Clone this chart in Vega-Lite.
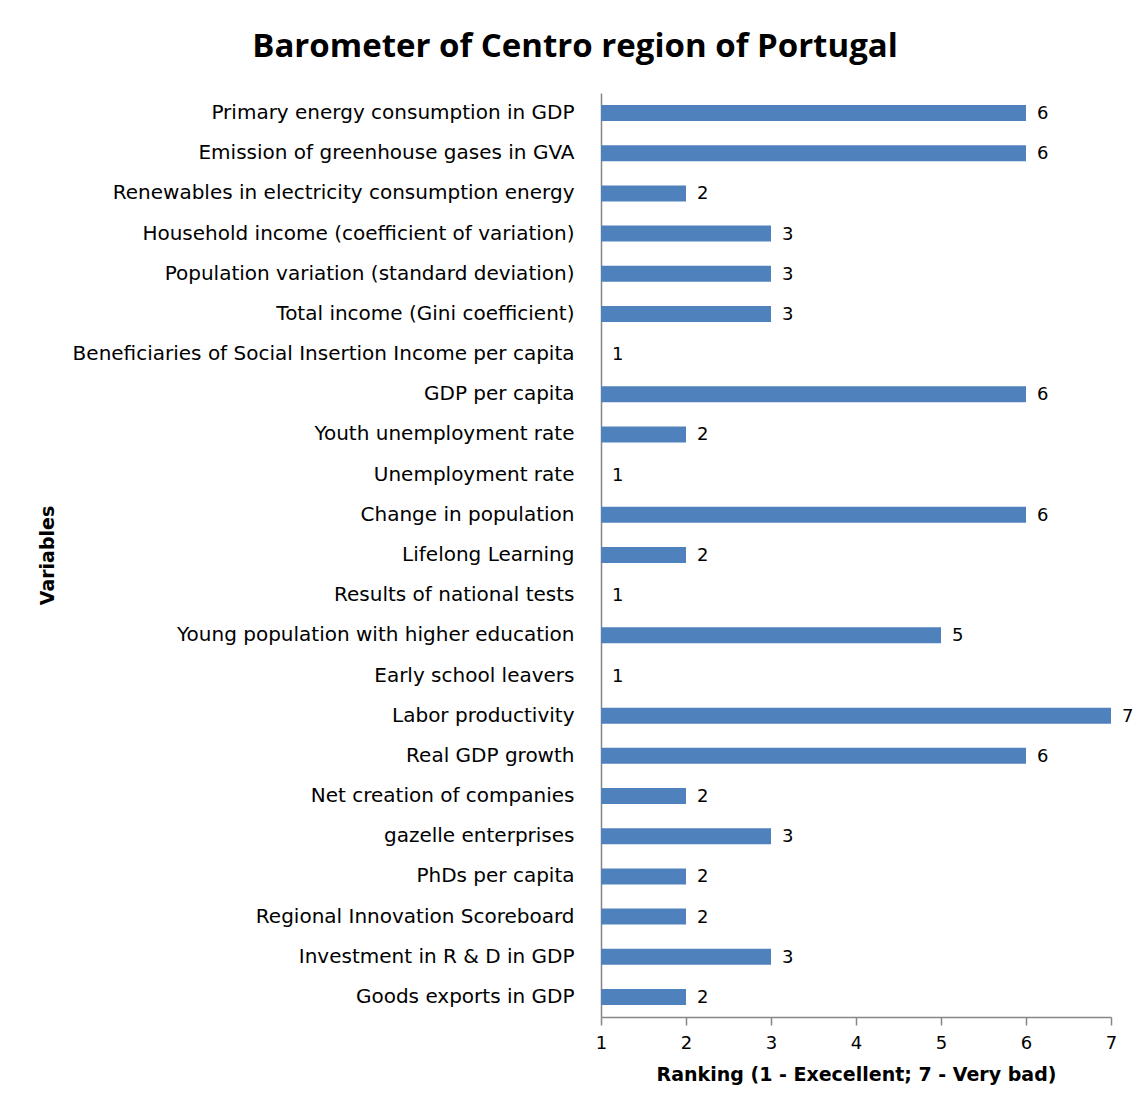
{
  "$schema": "https://vega.github.io/schema/vega-lite/v6.json",
  "autosize": {"type": "none"},
  "width": 510,
  "height": 924,
  "padding": {"left": 601, "top": 93, "right": 22, "bottom": 87},
  "background": "white",
  "title": {
    "text": "Barometer of Centro region of Portugal",
    "font": "Open Sans",
    "fontSize": 33,
    "fontWeight": "bold",
    "color": "#000000",
    "anchor": "middle",
    "dx": -281,
    "offset": 29
  },
  "data": {
    "values": [
      {"variable": "Primary energy consumption in GDP", "rank": 6},
      {"variable": "Emission of greenhouse gases in GVA", "rank": 6},
      {"variable": "Renewables in electricity consumption energy", "rank": 2},
      {"variable": "Household income (coefficient of variation)", "rank": 3},
      {"variable": "Population variation (standard deviation)", "rank": 3},
      {"variable": "Total income (Gini coefficient)", "rank": 3},
      {"variable": "Beneficiaries of Social Insertion Income per capita", "rank": 1},
      {"variable": "GDP per capita", "rank": 6},
      {"variable": "Youth unemployment rate", "rank": 2},
      {"variable": "Unemployment rate", "rank": 1},
      {"variable": "Change in population", "rank": 6},
      {"variable": "Lifelong Learning", "rank": 2},
      {"variable": "Results of national tests", "rank": 1},
      {"variable": "Young population with higher education", "rank": 5},
      {"variable": "Early school leavers", "rank": 1},
      {"variable": "Labor productivity", "rank": 7},
      {"variable": "Real GDP growth", "rank": 6},
      {"variable": "Net creation of companies", "rank": 2},
      {"variable": "gazelle enterprises", "rank": 3},
      {"variable": "PhDs per capita", "rank": 2},
      {"variable": "Regional Innovation Scoreboard", "rank": 2},
      {"variable": "Investment in R & D in GDP", "rank": 3},
      {"variable": "Goods exports in GDP", "rank": 2}
    ]
  },
  "encoding": {
    "y": {
      "field": "variable",
      "type": "nominal",
      "sort": null,
      "scale": {"paddingInner": 0.6, "paddingOuter": 0.3},
      "axis": {
        "title": "Variables",
        "titleFont": "DejaVu Sans",
        "titleFontSize": 19,
        "titleFontWeight": "bold",
        "titleColor": "#000000",
        "titleX": -554,
        "titleBaseline": "middle",
        "labelFont": "DejaVu Sans",
        "labelFontSize": 20,
        "labelColor": "#000000",
        "labelPadding": 27,
        "labelLimit": 600,
        "ticks": false,
        "domainColor": "#868686",
        "domainWidth": 1.5
      }
    }
  },
  "layer": [
    {
      "mark": {"type": "bar", "color": "#4F81BD", "size": 16},
      "encoding": {
        "x": {
          "field": "rank",
          "type": "quantitative",
          "scale": {"domain": [1, 7], "zero": false, "nice": false},
          "axis": {
            "title": "Ranking (1 - Execellent; 7 - Very bad)",
            "titleFont": "DejaVu Sans",
            "titleFontSize": 19,
            "titleFontWeight": "bold",
            "titleColor": "#000000",
            "titlePadding": 13,
            "values": [1, 2, 3, 4, 5, 6, 7],
            "format": "d",
            "labelFont": "DejaVu Sans",
            "labelFontSize": 18,
            "labelColor": "#000000",
            "labelPadding": 9,
            "labelFlush": false,
            "tickSize": 8,
            "tickColor": "#868686",
            "tickWidth": 1.5,
            "domainColor": "#868686",
            "domainWidth": 1.5,
            "grid": false
          }
        },
        "x2": {"datum": 1}
      }
    },
    {
      "mark": {"type": "text", "align": "left", "baseline": "middle", "dx": 11, "dy": 1, "font": "DejaVu Sans", "fontSize": 18, "color": "#000000"},
      "encoding": {
        "x": {"field": "rank", "type": "quantitative"},
        "text": {"field": "rank", "type": "quantitative"}
      }
    }
  ],
  "config": {"view": {"stroke": null}}
}
